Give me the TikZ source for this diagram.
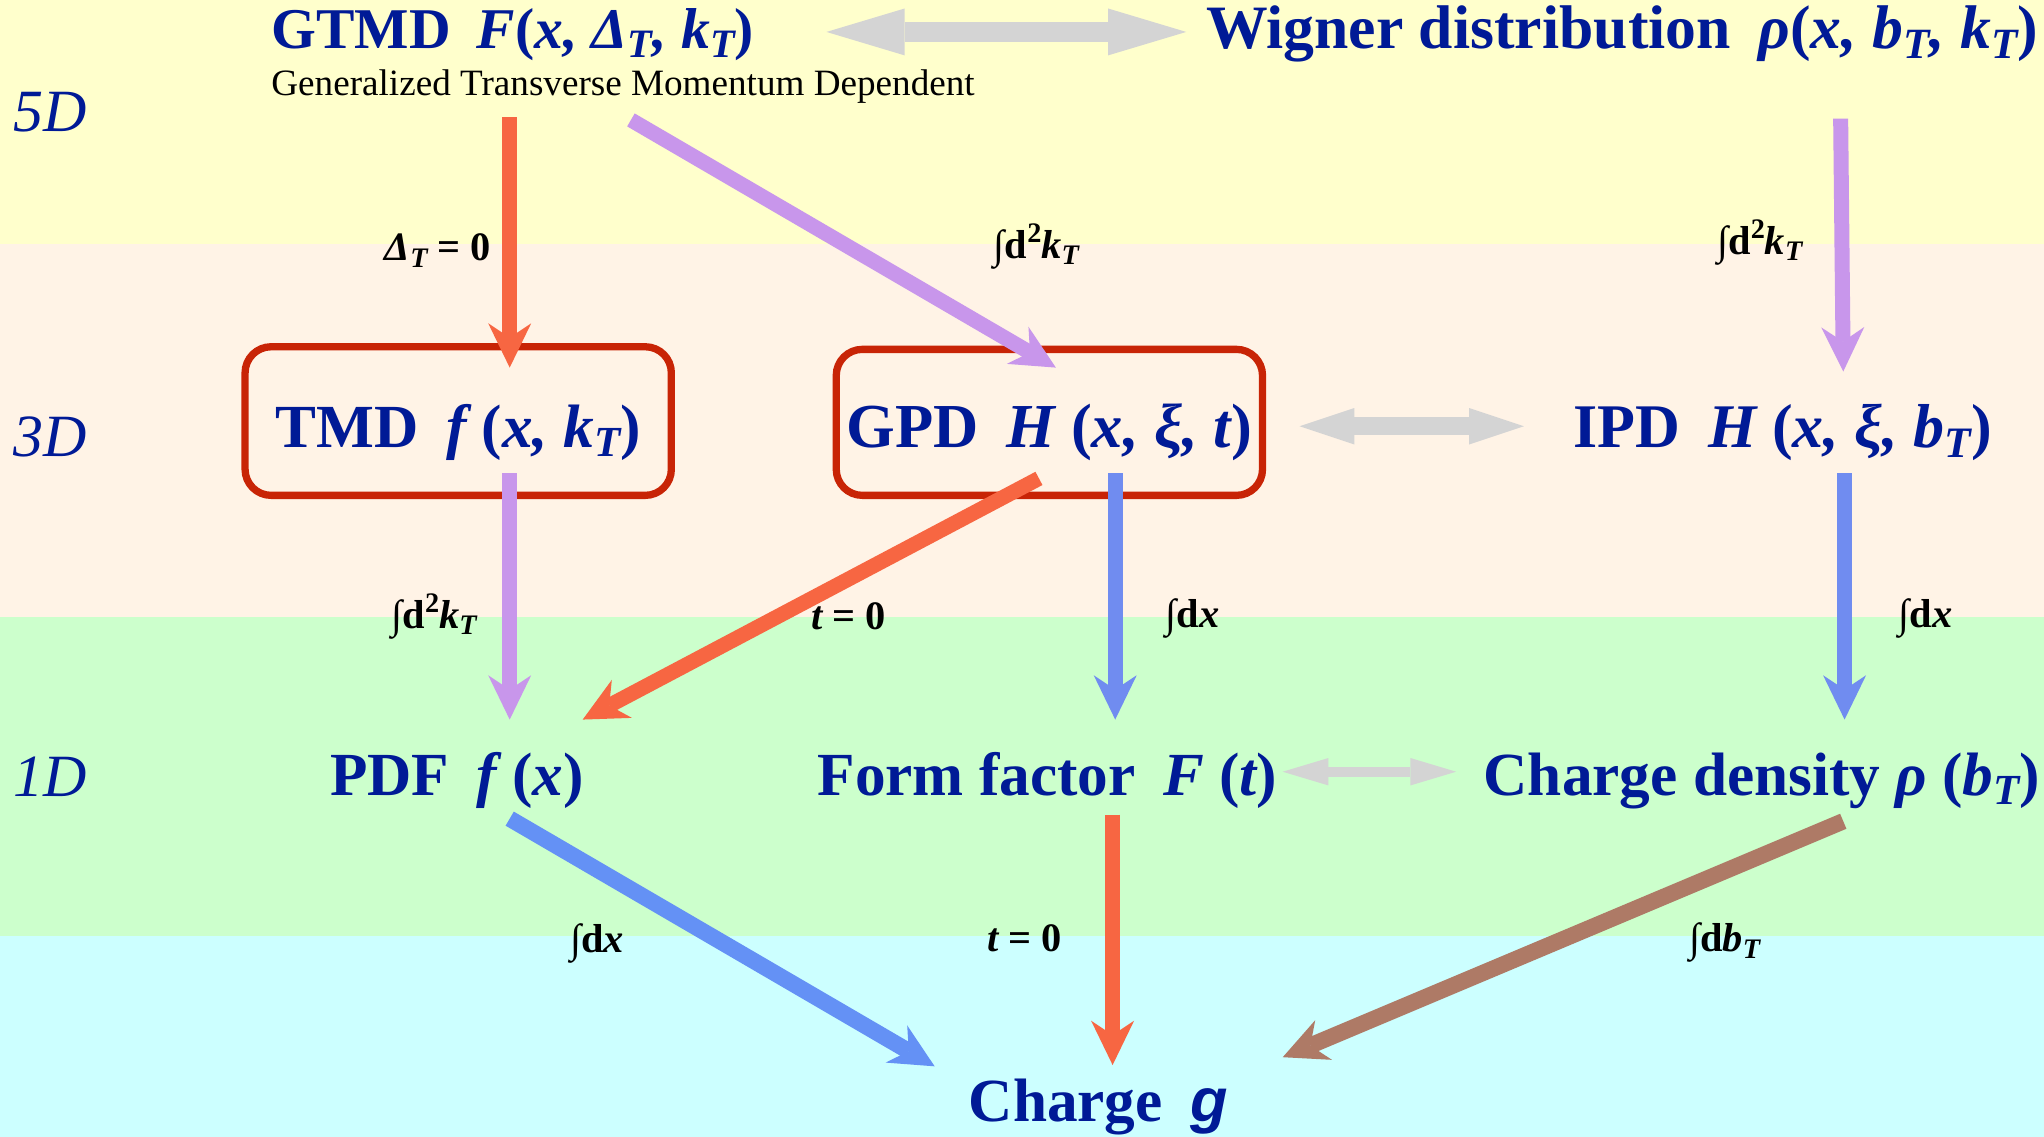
\documentclass[tikz,border=0pt]{standalone}
\usepackage{graphicx}
\usepackage{fontspec}
\setmainfont{Liberation Serif}
\newfontfamily\gsans{Liberation Sans}
\usetikzlibrary{arrows.meta}
\definecolor{navy}{RGB}{0,26,150}
\definecolor{ylw}{RGB}{255,255,204}
\definecolor{pch}{RGB}{255,243,230}
\definecolor{grn}{RGB}{204,255,204}
\definecolor{cyn}{RGB}{204,255,255}
\definecolor{boxred}{RGB}{200,36,6}
\definecolor{orng}{RGB}{247,102,66}
\definecolor{purp}{RGB}{200,150,235}
\definecolor{blu}{RGB}{112,140,240}
\definecolor{bluB}{RGB}{100,145,245}
\definecolor{brwn}{RGB}{174,122,102}
\definecolor{gry}{RGB}{212,212,212}
\newcommand\lowsub[1]{\raisebox{-0.16em}{\scalebox{0.7}{#1}}}
\newcommand\upsup[1]{\raisebox{0.38em}{\scalebox{0.7}{#1}}}
\newcommand\mi[1]{{\bfseries\itshape #1}}
\tikzset{
  ttl/.style={font=\fontsize{47}{53}\selectfont\bfseries, text=navy, inner sep=0pt, anchor=base west},
  dimlbl/.style={font=\fontsize{46}{52}\selectfont\itshape, text=navy, inner sep=0pt, anchor=base west},
  subttl/.style={font=\fontsize{28.5}{33}\selectfont, text=black, inner sep=0pt, anchor=base west},
  lbl/.style={font=\fontsize{31}{35}\selectfont\bfseries, text=black, inner sep=0pt, anchor=base},
  bx/.style={draw=boxred, line width=5.6pt, rounded corners=20pt, minimum width=327pt,
     inner sep=0pt, text=navy},
  conn/.style={line width=11.5pt, -{Stealth[length=34pt,width=33pt,inset=11pt,line width=0pt]}},
  gdbl/.style={draw=gry, line width=#1},
}
\begin{document}
\begin{tikzpicture}[x=1pt,y=-1pt]
\useasboundingbox (0,0) rectangle (1568,872);
% bands
\fill[ylw] (0,0) rectangle (1568,187);
\fill[pch] (0,187) rectangle (1568,473);
\fill[grn] (0,473) rectangle (1568,718);
\fill[cyn] (0,718) rectangle (1568,872);
% dimension labels
\node[dimlbl] (d5) at (10,101) {5D};
\node[dimlbl] (d3) at (10,350) {3D};
\node[dimlbl] (d1) at (10,611) {1D};
% nodes
\node[ttl, font=\fontsize{44.2}{50}\selectfont\bfseries] (gtmd) at (208,37) {GTMD\hspace{0.45em}\mi{F}(\mi{x, Δ\lowsub{T}, k\lowsub{T}})};
\node[subttl] (gsub) at (208,73) {Generalized Transverse Momentum Dependent};
\node[ttl, font=\fontsize{47.3}{53}\selectfont\bfseries] (wig) at (925,37) {Wigner distribution\hspace{0.45em}\mi{ρ}(\mi{x, b\lowsub{T}, k\lowsub{T}})};
\node[bx, font=\fontsize{47}{53}\selectfont\bfseries, minimum height=114pt, text height=50pt, text depth=10pt] (tmd) at (351.5,323) {TMD\hspace{0.45em}\mi{f} (\mi{x, k\lowsub{T}})};
\node[bx, font=\fontsize{48}{54}\selectfont\bfseries, minimum height=112pt, text height=48pt, text depth=10pt] (gpd) at (805,324) {GPD\hspace{0.45em}\mi{H} (\mi{x, ξ, t})};
\node[ttl, font=\fontsize{47.6}{53}\selectfont\bfseries] (ipd) at (1207,343) {IPD\hspace{0.45em}\mi{H} (\mi{x, ξ, b\lowsub{T}})};
\node[ttl] (pdf) at (253,610) {PDF\hspace{0.45em}\mi{f} (\mi{x})};
\node[ttl] (ff) at (627,610) {Form factor\hspace{0.45em}\mi{F} (\mi{t})};
\node[ttl] (cd) at (1138,610) {Charge density \mi{ρ} (\mi{b\lowsub{T}})};
\node[ttl] (chg) at (743,860) {Charge\hspace{0.45em}{\gsans\bfseries\itshape g}};
% arrow end points
\coordinate (g1l) at (634,24.5); \coordinate (g1r) at (910,24.5);
\coordinate (g2l) at (997,327);  \coordinate (g2r) at (1169,327);
\coordinate (g3l) at (984,592);  \coordinate (g3r) at (1117,592);
\coordinate (a1s) at (391,90);   \coordinate (a1e) at (391,282);
\coordinate (a2s) at (484,92);   \coordinate (a2e) at (810,282);
\coordinate (a3s) at (1412,91);  \coordinate (a3e) at (1414,285);
\coordinate (a4s) at (391,363);  \coordinate (a4e) at (391,552);
\coordinate (a5s) at (797,367);  \coordinate (a5e) at (447,552);
\coordinate (a6s) at (855.5,363);\coordinate (a6e) at (855.5,552);
\coordinate (a7s) at (1415,363); \coordinate (a7e) at (1415,552);
\coordinate (a8s) at (391,628);  \coordinate (a8e) at (717,818);
\coordinate (a9s) at (853.5,625);\coordinate (a9e) at (853.5,817);
\coordinate (a10s) at (1414,630);\coordinate (a10e) at (984,811);
% gray double arrows
\draw[gdbl=15pt, {Triangle[length=60pt,width=36pt,line width=0pt]}-{Triangle[length=60pt,width=36pt,line width=0pt]}] (g1l) -- (g1r);
\draw[gdbl=13.5pt, {Triangle[length=42pt,width=28pt,line width=0pt]}-{Triangle[length=42pt,width=28pt,line width=0pt]}] (g2l) -- (g2r);
\draw[gdbl=8pt, {Triangle[length=35pt,width=21pt,line width=0pt]}-{Triangle[length=35pt,width=21pt,line width=0pt]}] (g3l) -- (g3r);
% connectors
\draw[conn, orng] (a1s) -- (a1e);
\draw[conn, purp] (a2s) -- (a2e);
\draw[conn, purp] (a3s) -- (a3e);
\draw[conn, purp] (a4s) -- (a4e);
\draw[conn, orng] (a5s) -- (a5e);
\draw[conn, blu] (a6s) -- (a6e);
\draw[conn, blu] (a7s) -- (a7e);
\draw[conn, bluB, line width=12.5pt] (a8s) -- (a8e);
\draw[conn, orng] (a9s) -- (a9e);
\draw[conn, brwn, line width=12.5pt] (a10s) -- (a10e);
% connector labels
\node[lbl] (l1) at (336,200) {\mi{Δ\lowsub{T}} = 0};
\node[lbl] (l2) at (795,198) {∫d\upsup{2}\mi{k\lowsub{T}}};
\node[lbl] (l3) at (1350,195) {∫d\upsup{2}\mi{k\lowsub{T}}};
\node[lbl] (l4) at (333,482) {∫d\upsup{2}\mi{k\lowsub{T}}};
\node[lbl] (l5) at (651,483) {\mi{t} = 0};
\node[lbl] (l6) at (915,481) {∫d\mi{x}};
\node[lbl] (l7) at (1477,481) {∫d\mi{x}};
\node[lbl] (l8) at (458,731) {∫d\mi{x}};
\node[lbl] (l9) at (786,730) {\mi{t} = 0};
\node[lbl] (l10) at (1323,730) {∫d\mi{b\lowsub{T}}};
\end{tikzpicture}
\end{document}
